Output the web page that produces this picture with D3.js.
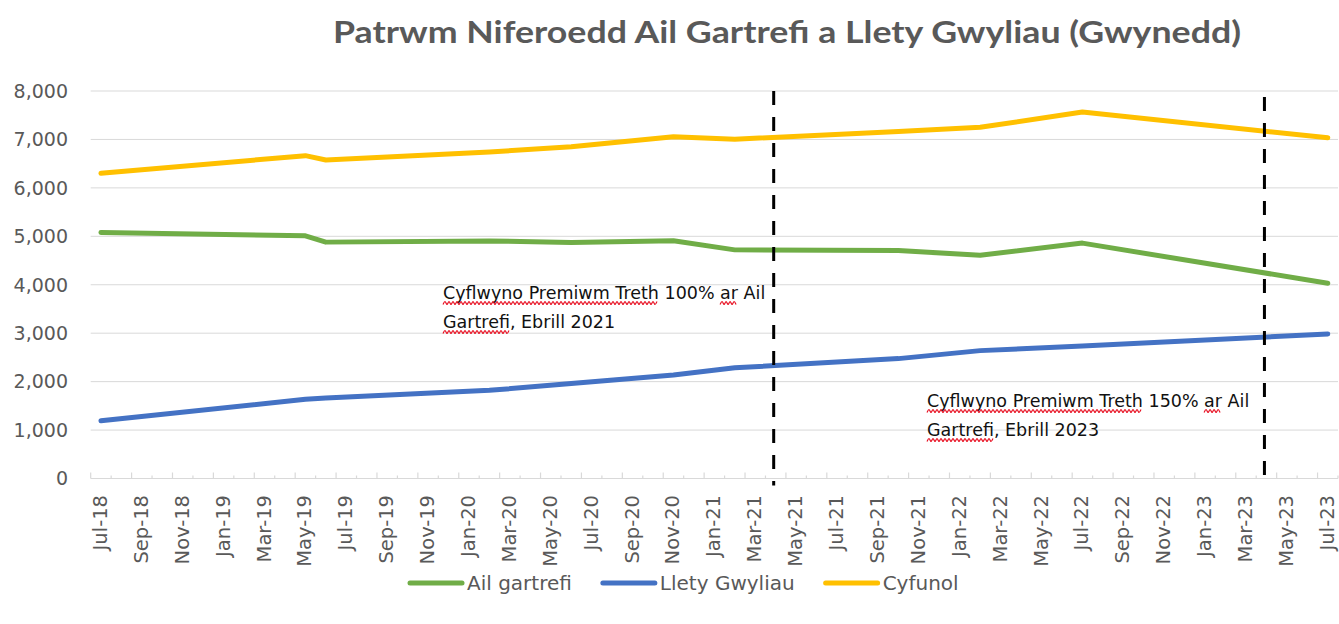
<!DOCTYPE html>
<html>
<head>
<meta charset="utf-8">
<script src="https://cdn.jsdelivr.net/npm/d3@7"></script>
<style>
  body { margin: 0; background: #fff; }
  svg { display: block; }
  .tick-label, .y-label { font-family: "DejaVu Sans", sans-serif; fill: #595959; }
</style>
</head>
<body>
<div id="chart"></div>
<script>
// data
var dates = ["2018-07", "2019-05", "2019-06", "2020-02", "2020-06", "2020-11", "2021-02", "2021-10", "2022-02", "2022-07", "2023-07"];
var ailGartrefi  = [5080, 5010, 4880, 4905, 4870, 4910, 4720, 4705, 4610, 4860, 4030];
var lletyGwyliau = [1190, 1635, 1660, 1820, 1960, 2135, 2285, 2475, 2640, 2735, 2985];
var cyfunol      = [6300, 6665, 6575, 6740, 6850, 7055, 7005, 7165, 7250, 7565, 7035];

var tickLabels = ["Jul-18","Sep-18","Nov-18","Jan-19","Mar-19","May-19","Jul-19","Sep-19","Nov-19","Jan-20",
  "Mar-20","May-20","Jul-20","Sep-20","Nov-20","Jan-21","Mar-21","May-21","Jul-21","Sep-21","Nov-21",
  "Jan-22","Mar-22","May-22","Jul-22","Sep-22","Nov-22","Jan-23","Mar-23","May-23","Jul-23"];
var yTicks = [0, 1000, 2000, 3000, 4000, 5000, 6000, 7000, 8000];
var markers = ["2021-04", "2023-04"];

var series = [
  {name: "Ail gartrefi", values: ailGartrefi, color: "#70AD47"},
  {name: "Llety Gwyliau", values: lletyGwyliau, color: "#4472C4"},
  {name: "Cyfunol", values: cyfunol, color: "#FFC000"}
];

var notes = [
  {lines: ["Cyflwyno Premiwm Treth 100% ar Ail", "Gartrefi, Ebrill 2021"], x: 443, y: 299},
  {lines: ["Cyflwyno Premiwm Treth 150% ar Ail", "Gartrefi, Ebrill 2023"], x: 927, y: 407}
];

var W = 1339, H = 624;
var plotL = 90.7, plotR = 1338, plotT = 91, plotB = 478.5;

var svg = d3.select("#chart").append("svg").attr("width", W).attr("height", H);

var parseM = d3.timeParse("%Y-%m");
var fmt = d3.timeFormat("%b-%y");
var allMonths = d3.timeMonth.range(parseM("2018-07"), d3.timeMonth.offset(parseM("2023-07"), 1)).map(fmt);

var x = d3.scaleBand().domain(allMonths).range([plotL, plotR]).padding(0);
var y = d3.scaleLinear().domain([0, 8000]).range([plotB, plotT]);
var cx = function(s) { return x(fmt(parseM(s))) + x.bandwidth() / 2; };

// title
svg.append("text")
  .attr("x", 787).attr("y", 43)
  .attr("text-anchor", "middle")
  .attr("textLength", 908).attr("lengthAdjust", "spacingAndGlyphs")
  .style("font-family", "Lato, sans-serif").style("font-weight", "bold")
  .style("font-size", "30px").style("fill", "#595959")
  .text("Patrwm Niferoedd Ail Gartrefi a Llety Gwyliau (Gwynedd)");

// gridlines
svg.append("g").selectAll("line")
  .data(yTicks.filter(function(d) { return d > 0; }))
  .enter().append("line")
  .attr("x1", plotL).attr("x2", plotR)
  .attr("y1", function(d) { return y(d); }).attr("y2", function(d) { return y(d); })
  .attr("stroke", "#D9D9D9").attr("stroke-width", 1);

// y labels
svg.append("g").selectAll("text")
  .data(yTicks).enter().append("text")
  .attr("class", "y-label")
  .attr("x", 68).attr("y", function(d) { return y(d); })
  .attr("dy", "0.36em").attr("text-anchor", "end")
  .style("font-size", "19px")
  .text(function(d) { return d3.format(",")(d); });

// x axis line and tick marks (inside)
svg.append("line").attr("x1", plotL).attr("x2", plotR)
  .attr("y1", plotB).attr("y2", plotB)
  .attr("stroke", "#D9D9D9").attr("stroke-width", 1.2);

var bounds = allMonths.map(function(m) { return x(m); }).concat([plotR]);
svg.append("g").selectAll("line")
  .data(bounds).enter().append("line")
  .attr("x1", function(d) { return d; }).attr("x2", function(d) { return d; })
  .attr("y1", plotB)
  .attr("y2", function(d, i) { return i % 2 === 0 ? plotB - 6 : plotB - 3; })
  .attr("stroke", "#D9D9D9").attr("stroke-width", 1.2);

// x labels, every second month
svg.append("g").selectAll("text")
  .data(tickLabels).enter().append("text")
  .attr("class", "tick-label")
  .attr("transform", function(d) { return "translate(" + (x(d) + x.bandwidth() / 2 - 1) + ",495) rotate(-90)"; })
  .attr("text-anchor", "end").attr("dy", "0.36em")
  .style("font-size", "19.5px")
  .text(function(d) { return d; });

// series lines
var line = d3.line()
  .x(function(d) { return cx(d.date); })
  .y(function(d) { return y(d.value); });

series.forEach(function(s) {
  var pts = dates.map(function(dt, i) { return {date: dt, value: s.values[i]}; });
  svg.append("path").datum(pts)
    .attr("d", line)
    .attr("fill", "none")
    .attr("stroke", s.color)
    .attr("stroke-width", 5)
    .attr("stroke-linejoin", "round")
    .attr("stroke-linecap", "round");
});

// dashed markers
svg.append("g").selectAll("line")
  .data(markers).enter().append("line")
  .attr("x1", function(d) { return cx(d) - 2; }).attr("x2", function(d) { return cx(d) - 2; })
  .attr("y1", function(d, i) { return y(8000) + i * 6; }).attr("y2", y(0) + 7)
  .attr("stroke", "#000").attr("stroke-width", 3)
  .attr("stroke-dasharray", "14,12");

// notes with the red spell-check squiggles
function squiggle(x0, x1, yy) {
  var pts = [], k = 0;
  for (var xx = x0; xx <= x1; xx += 2) { pts.push([xx, yy + (k % 2 ? -1.5 : 1.5)]); k++; }
  return d3.line().curve(d3.curveMonotoneX)(pts);
}
var flagged = [["Cyflwyno Premiwm Treth", "ar"], ["Gartrefi"]];

notes.forEach(function(n) {
  n.lines.forEach(function(txt, li) {
    var t = svg.append("text")
      .attr("x", n.x).attr("y", n.y + li * 29)
      .style("font-family", "DejaVu Sans, sans-serif")
      .style("font-size", "17.5px").style("fill", "#111")
      .text(txt);
    var node = t.node();
    flagged[li].forEach(function(w) {
      var i = txt.indexOf(w);
      if (i < 0) return;
      var a = node.getStartPositionOfChar(i).x;
      var b = node.getEndPositionOfChar(i + w.length - 1).x;
      svg.append("path").attr("d", squiggle(a, b, n.y + li * 29 + 4))
        .attr("fill", "none").attr("stroke", "#E81123").attr("stroke-width", 1.2);
    });
  });
});

// legend
var lx = 410, ly = 583;
series.forEach(function(s) {
  svg.append("line").attr("x1", lx).attr("x2", lx + 52)
    .attr("y1", ly).attr("y2", ly)
    .attr("stroke", s.color).attr("stroke-width", 5).attr("stroke-linecap", "round");
  var t = svg.append("text").attr("x", lx + 57).attr("y", ly).attr("dy", "0.36em")
    .style("font-family", "DejaVu Sans, sans-serif").style("font-size", "20px")
    .style("fill", "#595959").text(s.name);
  lx += 57 + t.node().getComputedTextLength() + 31;
});
</script>
</body>
</html>
